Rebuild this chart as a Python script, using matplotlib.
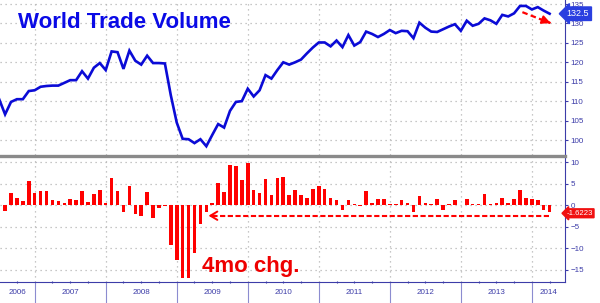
import matplotlib
matplotlib.use("Agg")
import matplotlib.pyplot as plt
from matplotlib.lines import Line2D
import numpy as np
import pandas as pd

plt.rcParams['font.family'] = ['Liberation Sans', 'DejaVu Sans']

# ---- data ----
months = pd.period_range('2006-07', '2014-04', freq='M')
volume = [110.5, 106.6, 109.8, 110.5, 110.5, 112.6, 112.8, 113.7, 113.9, 114.0,
          114.0, 114.7, 115.4, 115.4, 117.7, 115.8, 118.6, 119.8, 118.0, 122.8,
          122.6, 118.3, 123.0, 120.4, 119.4, 121.7, 119.8, 119.8, 119.7, 111.5,
          104.5, 100.3, 100.2, 99.2, 100.2, 98.4, 101.3, 104.1, 103.2, 107.5,
          109.8, 110.0, 113.2, 111.2, 112.8, 116.7, 115.8, 118.0, 120.0, 119.4,
          120.0, 120.7, 122.3, 123.8, 125.1, 125.1, 124.1, 125.6, 123.9, 127.0,
          124.3, 125.2, 127.9, 127.3, 126.5, 127.3, 128.3, 127.5, 128.1, 128.0,
          126.2, 130.2, 128.9, 127.9, 127.8, 128.5, 129.2, 129.8, 128.1, 130.7,
          129.4, 129.9, 131.3, 130.8, 129.9, 132.2, 131.8, 132.6, 134.5, 134.5,
          133.6, 134.2, 133.3, 132.5]
# 4-month change, Aug 2006 .. Apr 2014
change_4mo = [-1.3, 2.8, 1.6, 1.0, 5.6, 2.9, 3.2, 3.2, 1.2, 1.0,
              0.6, 1.5, 1.2, 3.2, 0.8, 2.6, 3.6, 0.4, 6.3, 3.2,
              -1.5, 4.4, -2.1, -2.6, 3.1, -2.9, -0.7, -0.1, -9.2, -12.8,
              -16.9, -16.9, -11.1, -4.3, -1.5, 0.6, 5.1, 3.1, 9.4, 9.0,
              5.8, 9.9, 3.5, 2.8, 6.0, 2.4, 6.2, 6.5, 2.4, 3.5,
              2.4, 1.7, 3.8, 4.4, 3.8, 1.6, 1.3, -1.1, 1.2, 0.2,
              -0.1, 3.2, 0.4, 1.5, 1.5, 0.2, 0.2, 1.3, 0.5, -1.7,
              2.1, 0.6, 0.2, 1.4, -1.2, 0.2, 1.2, 0.0, 1.5, 0.2,
              0.2, 2.6, 0.2, 0.6, 1.6, 0.4, 1.5, 3.6, 1.7, 1.4,
              1.2, -1.2, -1.6223]
years = [2006, 2007, 2008, 2009, 2010, 2011, 2012, 2013, 2014]
top_ticks = [100, 105, 110, 115, 120, 125, 130, 135]
bot_ticks = [-15, -10, -5, 0, 5, 10]

# ---- layout ----
x = np.array((months.year - 2006) * 12 + months.month - 1, dtype=float)
W, H = 600, 303
fig = plt.figure(figsize=(W / 100, H / 100), dpi=100)
fig.patch.set_facecolor('white')
xl = (6.14, 101.6)
axc = '#3c3ca8'
grid_kw = dict(color='#b5b5b5', linestyle=(0, (1, 3)), linewidth=0.9)

ax1 = fig.add_axes([0, 1 - 155 / H, 565 / W, 155 / H])
ax2 = fig.add_axes([0, (H - 282) / H, 565 / W, (282 - 157) / H])

year_bounds = [(y - 2006) * 12 for y in years[1:]]

# ---- top panel ----
ax1.plot(x, volume, color='#0b0bd6', linewidth=1.9, solid_joinstyle='miter', zorder=3)
ax1.set_yticks(top_ticks)
ax1.set_xticks(year_bounds)
ax1.set_xlim(*xl)
ax1.set_ylim(96.14, 136.03)
ax1.tick_params(axis='x', length=0, labelbottom=False)
ax1.yaxis.tick_right()
ax1.tick_params(axis='y', colors=axc, labelsize=5.8, length=2.5, width=0.8, pad=1.5)
for s in ['left', 'top', 'bottom']:
    ax1.spines[s].set_visible(False)
ax1.spines['right'].set_color(axc)
ax1.spines['right'].set_linewidth(0.8)
ax1.grid(True, **grid_kw)
ax1.set_axisbelow(True)
ax1.text(18 / 565, 1 - 28 / 155, 'World Trade Volume', transform=ax1.transAxes,
         color='#0a0ae6', fontsize=16, fontweight='bold', va='baseline', ha='left')
ax1.text(1.003, volume[-1], f'{volume[-1]:.1f}', transform=ax1.get_yaxis_transform(),
         color='white', fontsize=6.5, va='center', ha='left', clip_on=False,
         bbox=dict(boxstyle='larrow,pad=0.25', fc='#2a3fe0', ec='#2a3fe0'))
# red dashed arrow
ax1.plot([94.4, 99.1], [132.9, 130.1], color='red', linestyle=(0, (2.5, 1.5)), lw=1.6)
ax1.annotate('', xy=(99.6, 129.85), xytext=(98.6, 130.45),
             arrowprops=dict(arrowstyle='-|>,head_length=0.5,head_width=0.25',
                             color='red', lw=1.4))

# ---- bottom panel ----
ax2.bar(x[1:], change_4mo, width=0.6, color='#ff0000', zorder=3)
ax2.set_yticks(bot_ticks)
ax2.yaxis.tick_right()
ax2.tick_params(axis='y', colors=axc, labelsize=5.8, length=2.5, width=0.8, pad=1.5)
ax2.set_xticks(year_bounds)
ax2.set_xticks([q for q in range(9, 100, 3) if q % 12 != 0], minor=True)
ax2.set_xlim(*xl)
ax2.set_ylim(-17.9, 11.2)
ax2.tick_params(axis='x', which='major', length=15.5, width=0.8, color='#8c8cd0',
                direction='out', labelbottom=False)
ax2.tick_params(axis='x', which='minor', length=2, width=0.8, color=axc, direction='inout')
for s in ['left', 'top']:
    ax2.spines[s].set_visible(False)
for s in ['right', 'bottom']:
    ax2.spines[s].set_color(axc)
    ax2.spines[s].set_linewidth(0.8)
ax2.grid(True, which='major', **grid_kw)
ax2.set_axisbelow(True)

for y in years:
    a = max((y - 2006) * 12, xl[0])
    b = min((y - 2006) * 12 + 12, xl[1])
    ax2.text((a + b) / 2, -0.085, str(y), transform=ax2.get_xaxis_transform(),
             color=axc, fontsize=5.8, ha='center', va='center')

ax2.text(1.003, -1.9, f'{change_4mo[-1]:.4f}', transform=ax2.get_yaxis_transform(),
         color='white', fontsize=5.6, va='center', ha='left', clip_on=False,
         bbox=dict(boxstyle='larrow,pad=0.12', fc='#f01010', ec='#f01010'))
ax2.text(201.7 / 565, 1 - 115 / 125, '4mo chg.', transform=ax2.transAxes,
         color='#ee0000', fontsize=16, fontweight='bold', va='baseline', ha='left')
# dashed red arrow line
ax2.plot([98.9, 41.6], [-2.47, -2.47], color='red', linestyle=(0, (2.5, 1.2)), lw=1.5)
ax2.annotate('', xy=(40.9, -2.47), xytext=(43.0, -2.47),
             arrowprops=dict(arrowstyle='->,head_length=0.5,head_width=0.3',
                             color='red', lw=1.4))

# separator between panels
fig.add_artist(Line2D([0, 565 / W], [1 - 155.5 / H, 1 - 155.5 / H],
                      transform=fig.transFigure, color='#8a8a8a', linewidth=2.4))

fig.savefig('out.png', dpi=100, facecolor='white')
